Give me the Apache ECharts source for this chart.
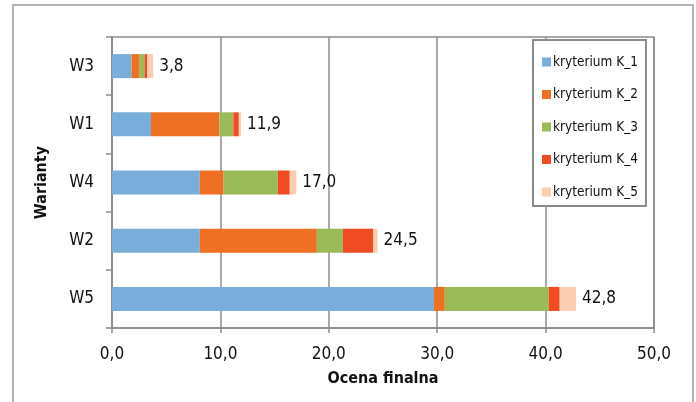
<!DOCTYPE html>
<html>
<head>
<meta charset="utf-8">
<script src="https://cdn.jsdelivr.net/npm/echarts@6/dist/echarts.min.js"></script>
<style>
  html, body { margin: 0; padding: 0; background: #fff; }
  #chart { width: 696px; height: 402px; }
</style>
</head>
<body>
<div id="chart"></div>
<script>
// Variants, top to bottom
const warianty = ['W3', 'W1', 'W4', 'W2', 'W5'];
// Partial scores per criterion for each variant
const kryteriumK1 = [1.8, 3.6, 8.1, 8.1, 29.7];
const kryteriumK2 = [0.7, 6.3, 2.2, 10.8, 1.0];
const kryteriumK3 = [0.5, 1.3, 5.0, 2.4, 9.6];
const kryteriumK4 = [0.25, 0.5, 1.1, 2.8, 1.0];
const kryteriumK5 = [0.55, 0.2, 0.6, 0.4, 1.5];
// Final score of each variant (sum of the criteria)
const ocenaFinalna = [3.8, 11.9, 17.0, 24.5, 42.8];
const xTicks = [0, 10, 20, 30, 40, 50];

const seriesNames = ['kryterium K_1', 'kryterium K_2', 'kryterium K_3', 'kryterium K_4', 'kryterium K_5'];
const seriesData = [kryteriumK1, kryteriumK2, kryteriumK3, kryteriumK4, kryteriumK5];
const colors = ['#79aedb', '#ee7023', '#9bbb59', '#f04b23', '#fbceb1'];

const FONT = "'Liberation Sans Narrow', 'DejaVu Sans Condensed', 'Roboto', sans-serif";
const fmt = v => v.toFixed(1).replace('.', ',');

const chart = echarts.init(document.getElementById('chart'), null, { renderer: 'canvas' });

const series = seriesNames.map((name, i) => ({
  name: name,
  type: 'bar',
  stack: 'total',
  barWidth: 24,
  data: seriesData[i],
  itemStyle: { color: colors[i] },
  label: i === seriesNames.length - 1 ? {
    show: true,
    position: 'right',
    distance: 6,
    color: '#111',
    fontFamily: FONT,
    fontSize: 17,
    formatter: p => fmt(ocenaFinalna[p.dataIndex])
  } : { show: false }
}));

chart.setOption({
  animation: false,
  textStyle: { fontFamily: FONT },
  grid: {
    left: 112, right: 42, top: 37, bottom: 74,
    show: true, borderColor: '#8c8c8c', borderWidth: 1.5
  },
  xAxis: {
    type: 'value',
    min: xTicks[0],
    max: xTicks[xTicks.length - 1],
    interval: 10,
    name: 'Ocena finalna',
    nameLocation: 'middle',
    nameGap: 43,
    nameTextStyle: { fontFamily: FONT, fontSize: 16, fontWeight: 'bold', color: '#111' },
    axisLine: { show: true, lineStyle: { color: '#8c8c8c', width: 1.5 } },
    axisTick: { show: true, length: 5, lineStyle: { color: '#8c8c8c', width: 1.5 } },
    axisLabel: { margin: 18, fontFamily: FONT, fontSize: 17, color: '#111', formatter: v => fmt(v) },
    splitLine: { show: true, lineStyle: { color: '#8c8c8c', width: 1.5 } }
  },
  yAxis: {
    type: 'category',
    data: warianty,
    inverse: true,
    name: 'Warianty',
    nameLocation: 'middle',
    nameGap: 62,
    nameRotate: 90,
    nameTextStyle: { fontFamily: FONT, fontSize: 16, fontWeight: 'bold', color: '#111' },
    axisLine: { show: true, lineStyle: { color: '#8c8c8c', width: 1.5 } },
    axisTick: { show: true, length: 6, lineStyle: { color: '#8c8c8c', width: 1.5 } },
    axisLabel: { margin: 18, fontFamily: FONT, fontSize: 17, color: '#111' },
    splitLine: { show: false }
  },
  legend: {
    orient: 'vertical',
    left: 533,
    top: 40,
    width: 112,
    padding: [15, 8, 7, 9],
    itemGap: 18.5,
    itemWidth: 9,
    itemHeight: 9,
    icon: 'rect',
    borderColor: '#8c8c8c',
    borderWidth: 2,
    backgroundColor: '#fff',
    textStyle: { fontFamily: FONT, fontSize: 13.5, color: '#111', padding: [0, 0, 0, -3] },
    data: seriesNames
  },
  graphic: [
    {
      type: 'rect',
      shape: { x: 13, y: 5, width: 680, height: 400 },
      style: { fill: null, stroke: '#9a9a9a', lineWidth: 1.5 },
      silent: true,
      z: -1
    }
  ],
  series: series
});
</script>
</body>
</html>
